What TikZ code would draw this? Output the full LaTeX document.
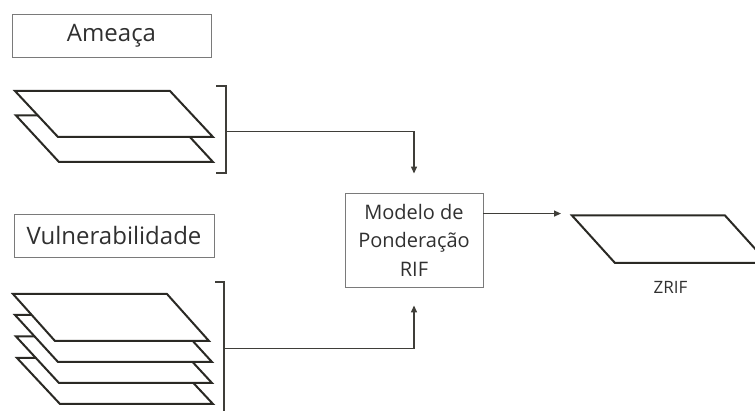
\documentclass[tikz,border=0pt]{standalone}
\usepackage{fontspec}
\setmainfont{Open Sans}
\usetikzlibrary{arrows.meta,calc}
\definecolor{ink}{HTML}{2A2924}
\definecolor{txt}{HTML}{303030}
\definecolor{frame}{HTML}{7A7A7A}
\definecolor{wire}{HTML}{3F3E39}
\tikzset{
  label box/.style={draw=frame,line width=0.9pt,rectangle,inner sep=0pt,
    text=txt,font=\fontsize{24}{28}\selectfont},
  layer/.style={draw=ink,line width=2pt,fill=white,line join=miter},
  bracket/.style={draw=wire,line width=1.3pt},
  wire/.style={draw=wire,line width=1.3pt},
  tip/.style={-{Triangle[length=7pt,width=6pt]}},
}
% sheet: parallelogram with top-left corner #1, width #2, shift #3, height #4
\newcommand{\sheet}[4]{%
  \path[layer] (#1) -- ++(#2,0) -- ++(#3,#4) -- ++(-#2,0) -- cycle;}
\begin{document}
\begin{tikzpicture}[x=1pt,y=-1pt]
\useasboundingbox (0,0) rectangle (755,411);
\clip (0,0) rectangle (755,411);

% titles
\node[label box,minimum width=199pt,minimum height=43pt] (ameaca) at (111.5,35.5) {Ameaça};
\node[label box,minimum width=200pt,minimum height=43pt] (vuln) at (114,235.5) {Vulnerabilidade};

% hazard layers (back to front)
\coordinate (a2) at (16,115.5);
\coordinate (a1) at (15,91);
\sheet{a2}{154}{43}{46.5}
\sheet{a1}{155}{43}{46}

% vulnerability layers (back to front)
\coordinate (v4) at (17,358);
\coordinate (v3) at (16,336.5);
\coordinate (v2) at (15,315);
\coordinate (v1) at (13,294);
\sheet{v4}{153}{43}{46}
\sheet{v3}{153}{43}{46.5}
\sheet{v2}{154}{43}{47}
\sheet{v1}{154}{42}{47}

% brackets
\coordinate (abT) at (226,86);
\coordinate (abB) at (226,173);
\coordinate (abM) at (226,131.5);
\draw[bracket] ($(abT)+(-10,0)$) -- (abT) -- (abB) -- ($(abB)+(-10,0)$);
\coordinate (vbT) at (224,282);
\coordinate (vbB) at (224,420);
\coordinate (vbM) at (224,348.5);
\draw[bracket] ($(vbT)+(-9,0)$) -- (vbT) -- (vbB);

% weighting model
\node[draw=frame,line width=0.9pt,minimum width=138pt,minimum height=94pt,
  inner sep=0pt,align=center,text=txt,
  font=\fontsize{20}{28.5}\selectfont] (model) at (414,240)
  {Modelo de\\Ponderação\\RIF};

% connectors
\draw[wire,tip,shorten >=19pt] (abM) -| (model.north);
\draw[wire,tip,shorten >=18pt] (vbM) -| (model.south);

% output layer
\coordinate (z) at (572,215.5);
\coordinate (zin) at ($(model.north east)+(0,21)$);
\draw[wire,tip,shorten >=11pt] (zin) -- (zin -| z);
\sheet{z}{153}{43}{47.5}
\node[text=txt,font=\fontsize{17}{20}\selectfont,anchor=base] (zrif) at (670.5,294) {ZRIF};
\end{tikzpicture}
\end{document}
